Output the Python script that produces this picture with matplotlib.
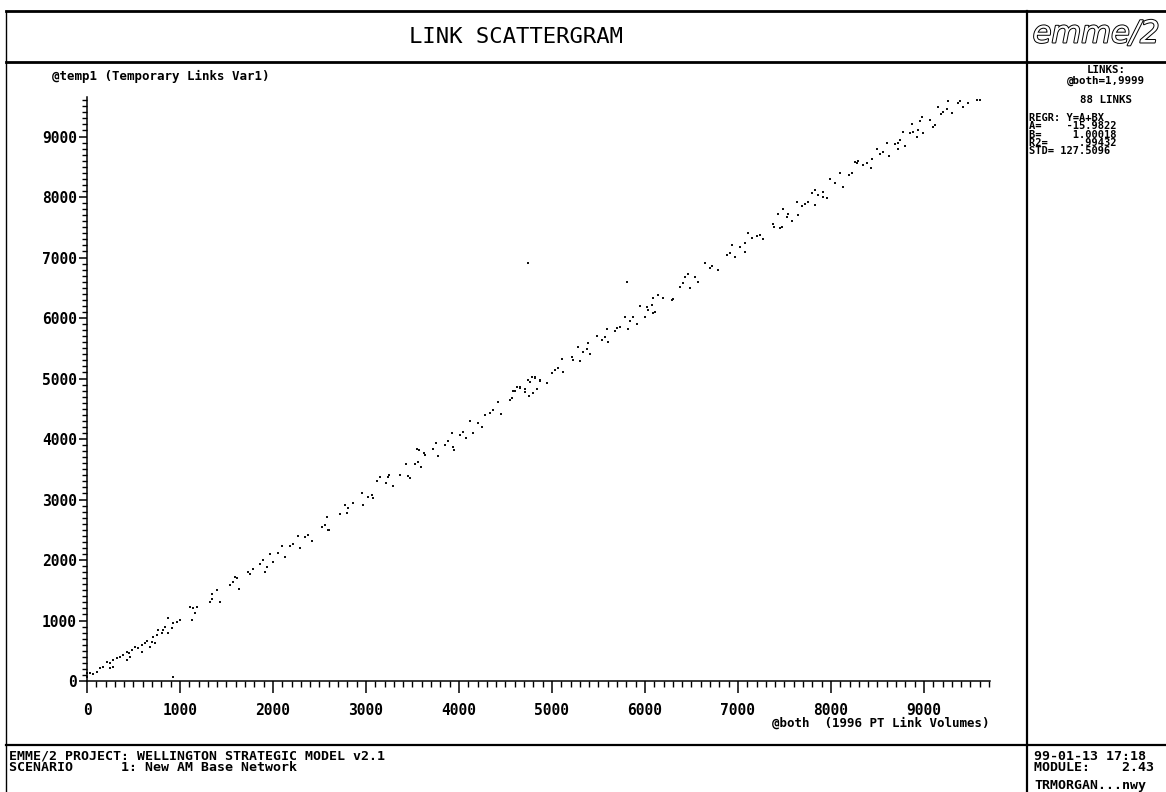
import numpy as np
import matplotlib.pyplot as plt
from matplotlib.lines import Line2D
from matplotlib.ticker import MultipleLocator
import matplotlib.patheffects as pe

# link volumes: (@both, @temp1)
band_low = [(0, 127), (4, 72), (32, 138), (68, 116), (104, 154), (140, 210), (176, 237), (211, 319),
            (247, 293), (283, 347), (319, 375), (355, 402), (391, 430), (427, 485), (455, 458), (480, 512),
            (516, 567), (552, 540), (588, 595), (624, 623), (642, 666), (695, 650), (713, 733), (749, 760),
            (767, 843), (803, 788), (821, 843), (839, 898), (875, 1036), (875, 788), (910, 871), (921, 953),
            (965, 980), (1000, 1008), (1125, 1008), (1108, 1217), (1143, 1202), (1161, 1129), (1179, 1228),
            (1323, 1311), (1340, 1350), (1430, 1311), (1394, 1504), (1538, 1587), (1573, 1641), (1609, 1697),
            (1591, 1724), (1638, 1516), (1735, 1807), (1753, 1769), (1789, 1846), (1860, 1934), (1896, 2000),
            (1932, 1890), (1914, 1807), (1968, 2099), (2004, 1972), (2057, 2110), (2093, 2231), (2129, 2044),
            (2183, 2231), (2219, 2264), (2290, 2193), (2272, 2397), (2380, 2413), (2416, 2319), (2523, 2550),
            (2595, 2496), (427, 347), (462, 402), (588, 485), (677, 567), (731, 623), (283, 237), (247, 210),
            (1340, 1438), (929, 72)]

band_mid = [(2344, 2385), (2380, 2413), (2416, 2319), (2523, 2550), (2559, 2579), (2577, 2716), (2605, 2496),
            (2720, 2760), (2792, 2772), (2774, 2909), (2810, 2854), (2864, 2937), (2971, 2909), (2953, 3102),
            (3025, 3047), (3061, 3074), (3079, 3020), (3115, 3311), (3151, 3377), (3215, 3278), (3240, 3377),
            (3251, 3405), (3287, 3223), (3366, 3405), (3430, 3587), (3455, 3388), (3473, 3350), (3527, 3587),
            (3545, 3829), (3563, 3625), (3573, 3818), (3588, 3532), (3624, 3774), (3634, 3736), (3724, 3829),
            (3753, 3929), (3778, 3719), (3849, 3901), (3885, 3972), (3921, 4104), (3939, 3862), (3946, 3818),
            (4011, 4066), (4047, 4121), (4075, 4011), (4118, 4302), (4147, 4104), (4208, 4269), (4244, 4203),
            (4280, 4397), (4333, 4435), (4369, 4479), (4423, 4617), (4452, 4408), (4548, 4645), (4602, 4799),
            (4656, 4855), (4710, 4822), (4756, 4711), (4763, 4948), (4817, 5030), (4835, 4822), (4871, 4964),
            (4943, 4920)]

band_upper = [(4566, 4673), (4584, 4799), (4620, 4865), (4656, 4838), (4710, 4782), (4746, 4975), (4782, 5030),
              (4799, 4766), (4817, 5003), (4871, 4975), (4943, 4931), (4997, 5086), (5032, 5140), (5068, 5168),
              (5104, 5317), (5122, 5113), (5212, 5350), (5229, 5306), (5283, 5515), (5301, 5294), (5337, 5443),
              (5373, 5482), (5391, 5592), (5409, 5405), (5481, 5702), (5534, 5636), (5570, 5680), (5588, 5813),
              (5606, 5608), (5677, 5791), (5695, 5830), (5731, 5857), (5785, 6011), (5821, 5813), (5839, 5956),
              (5874, 6011), (5911, 5901), (5946, 6198), (6000, 6022), (6018, 6187), (6036, 6132), (6072, 6215),
              (6090, 6326), (6090, 6088), (6108, 6104), (6143, 6380), (6197, 6326), (6287, 6298), (6305, 6309),
              (6376, 6518), (6412, 6584), (6430, 6683), (6466, 6727), (6484, 6491), (6538, 6683), (6573, 6600),
              (6645, 6915), (6699, 6821), (6717, 6860), (6789, 6793), (6878, 7041), (6914, 7069), (6932, 7207),
              (6968, 7003), (7022, 7179), (7075, 7234), (7075, 7096), (7111, 7400)]

band_top = [(7147, 7317), (7201, 7355), (7237, 7372), (7272, 7300), (7380, 7554), (7387, 7510), (7452, 7482),
            (7470, 7510), (7434, 7719), (7487, 7796), (7523, 7675), (7541, 7719), (7577, 7608), (7631, 7923),
            (7649, 7702), (7685, 7851), (7720, 7884), (7756, 7923), (7792, 8061), (7828, 8116), (7828, 7868),
            (7864, 8033), (7917, 8088), (7917, 8005), (7953, 7978), (7989, 8292), (8043, 8226), (8097, 8391),
            (8132, 8171), (8197, 8364), (8222, 8391), (8258, 8584), (8276, 8557), (8294, 8600), (8348, 8529),
            (8384, 8557), (8430, 8474), (8437, 8623), (8491, 8788), (8527, 8711), (8563, 8749), (8599, 8898),
            (8627, 8678), (8688, 8871), (8724, 8898), (8724, 8788), (8742, 8942), (8778, 9080), (8796, 8843),
            (8849, 9052), (8867, 9207), (8885, 9080), (8921, 8986), (8939, 9107), (8957, 9262), (8975, 9317),
            (8993, 9052), (9065, 9273), (9100, 9162), (9118, 9190), (9154, 9493), (9179, 9367), (9208, 9410),
            (9244, 9449), (9262, 9592), (9297, 9383), (9369, 9559), (9387, 9592), (9423, 9482), (9477, 9559),
            (9566, 9603), (9602, 9603)]

outliers = [(4739, 6904), (5806, 6600)]

ticks = list(range(0, 10000, 1000))
title = 'LINK SCATTERGRAM'
ylabel = '@temp1 (Temporary Links Var1)'
xlabel = '@both  (1996 PT Link Volumes)'
panel_center = ['LINKS:', '@both=1,9999', '88 LINKS']
panel_left = ['REGR: Y=A+BX', 'A=    -15.9822', 'B=     1.00018', 'R2=     .99432', 'STD= 127.5096']
footer_left = ['EMME/2 PROJECT: WELLINGTON STRATEGIC MODEL v2.1', 'SCENARIO      1: New AM Base Network']
footer_right = ['99-01-13 17:18', 'MODULE:    2.43', 'TRMORGAN...nwy']

W, H = 1166, 792
mono = 'DejaVu Sans Mono'


def fx(x):
    return x / W


def fy(y):
    return 1 - y / H


fig = plt.figure(figsize=(W / 100, H / 100), dpi=100)

# frame of the plot sheet
for (x0, y0, x1, y1, lw) in [(6, 11, W, 11, 2.0), (6, 11, 6, H, 1.0), (6, 62, W, 62, 2.0),
                             (6, 745, W, 745, 1.6), (1027, 11, 1027, H, 1.6)]:
    fig.add_artist(Line2D([fx(x0), fx(x1)], [fy(y0), fy(y1)], color='black', lw=lw))

ax = fig.add_axes([fx(87), fy(681), fx(990) - fx(87), fy(97) - fy(681)])
ax.patch.set_visible(False)
ax.set_xlim(0, 9710)
ax.set_ylim(0, 9653)
for s in ['top', 'right']:
    ax.spines[s].set_visible(False)
for s in ['left', 'bottom']:
    ax.spines[s].set_linewidth(1.1)

pts = np.array(band_low + band_mid + band_upper + band_top + outliers)
ax.scatter(pts[:, 0], pts[:, 1], s=4, marker='s', c='#111111', linewidths=0, clip_on=False)

ax.set_xticks(ticks)
ax.set_yticks(ticks)
ax.xaxis.set_minor_locator(MultipleLocator(100))
ax.yaxis.set_minor_locator(MultipleLocator(100))
ax.tick_params(axis='x', which='major', direction='out', length=8.5, width=1.1, pad=7)
ax.tick_params(axis='x', which='minor', direction='out', length=4.3, width=1.0)
ax.tick_params(axis='y', which='major', direction='out', length=5.8, width=1.1, pad=1.5)
ax.tick_params(axis='y', which='minor', direction='out', length=3.6, width=1.0)
for lbl in ax.get_xticklabels() + ax.get_yticklabels():
    lbl.set_fontfamily(mono)
    lbl.set_fontweight('bold')
    lbl.set_fontsize(10.5)

fig.text(fx(516), fy(37), title, ha='center', va='center', family=mono, fontsize=16)
fig.text(fx(52), fy(76), ylabel, ha='left', va='center', family=mono, fontsize=9, weight='bold')
fig.text(fx(990), fy(723), xlabel, ha='right', va='center', family=mono, fontsize=9, weight='bold')

# logo
fig.text(fx(1096), fy(34), 'emme/2', ha='center', va='center', fontsize=22, style='italic',
         color='white', path_effects=[pe.Stroke(linewidth=1.4, foreground='black'), pe.Normal()])

for i, t in enumerate(panel_center):
    fig.text(fx(1106), fy([70, 81, 100][i]), t, ha='center', va='center', family=mono,
             fontsize=7.8, weight='bold')
for i, t in enumerate(panel_left):
    fig.text(fx(1029), fy(118 + 8.3 * i), t, ha='left', va='center', family=mono,
             fontsize=7.5, weight='bold')

for i, t in enumerate(footer_left):
    fig.text(fx(9), fy(756 + 11.5 * i), t, ha='left', va='center', family=mono, fontsize=9.5, weight='bold')
for i, t in enumerate(footer_right):
    fig.text(fx(1034), fy([756, 767.5, 785][i]), t, ha='left', va='center', family=mono,
             fontsize=9.5, weight='bold')

fig.savefig('out.png', dpi=100)
